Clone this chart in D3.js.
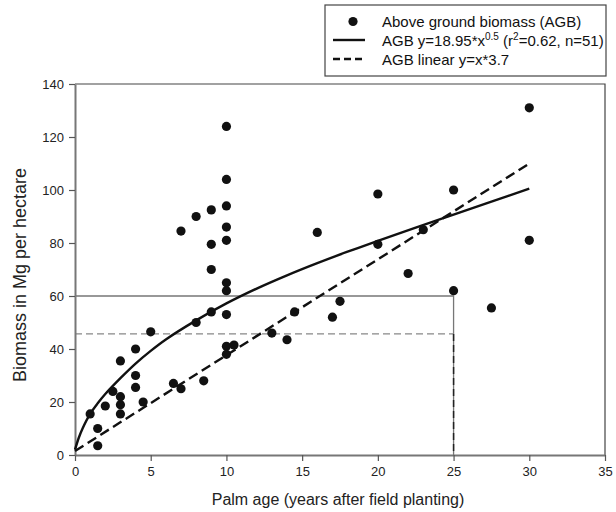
<!DOCTYPE html>
<html>
<head>
<meta charset="utf-8">
<script src="https://cdn.jsdelivr.net/npm/d3@7"></script>
<style>
  body { margin: 0; background: #fff; }
  svg { font-family: "Liberation Sans", Arial, sans-serif; }
</style>
</head>
<body>
<svg width="616" height="512"></svg>
<script>
// observed points (palm age, above ground biomass)
const ageYears = [10, 10, 10, 9, 8, 7, 10, 9, 10, 9, 10, 10, 10, 9, 8, 5, 4, 3, 4, 4,
  2.5, 3, 3, 3, 4.5, 2, 1, 1.5, 1.5, 6.5, 7, 8.5, 10, 10, 10.5, 13, 14, 14.5, 16, 17,
  17.5, 20, 20, 22, 23, 25, 25, 27.5, 30, 30];
const biomass = [124, 104, 94, 92.5, 90, 84.5, 86, 79.5, 81, 70, 65, 62, 53, 54, 50, 46.5, 40, 35.5, 30, 25.5,
  24, 22, 19, 15.5, 20, 18.5, 15.5, 10, 3.5, 27, 25, 28, 41, 38, 41.5, 46, 43.5, 54, 84, 52,
  58, 98.5, 79.5, 68.5, 85, 100, 62, 55.5, 131, 81];

// fitted power curve
const fitX = [0, 0.25, 0.5, 1, 1.5, 2, 3, 4, 5, 6, 8, 10, 12, 14, 16, 18, 20, 22.5, 25, 27.5, 30];
const fitY = [2, 6.5, 10, 15.5, 19.5, 23, 29, 34.5, 39.3, 43.6, 50.8, 57.2, 62.8, 67.8, 72.4, 76.7, 80.8, 85.8, 90.7, 95.6, 100.5];

// linear line ends
const linX = [0, 30];
const linY = [1.5, 110];

const xTicks = [0, 5, 10, 15, 20, 25, 30, 35];
const yTicks = [0, 20, 40, 60, 80, 100, 120, 140];

const svg = d3.select("svg");
const plotL = 75, plotR = 605, plotT = 84, plotB = 455;

const x = d3.scaleLinear().domain([0, 35]).range([plotL, plotR]);
const y = d3.scaleLinear().domain([0, 140]).range([plotB, plotT]);

// frame top + right
svg.append("path")
  .attr("d", `M${plotL},${plotT}H${plotR}V${plotB}`)
  .attr("fill", "none")
  .attr("stroke", "#444")
  .attr("stroke-width", 1.2);

// reference lines at 60 and ~45.7
svg.append("path")
  .attr("d", `M${x(0)},${y(60)}H${x(25)}V${y(0)}`)
  .attr("fill", "none")
  .attr("stroke", "#777")
  .attr("stroke-width", 1.3);

svg.append("path")
  .attr("d", `M${x(0)},${y(45.7)}H${x(25)}`)
  .attr("fill", "none")
  .attr("stroke", "#888")
  .attr("stroke-width", 1.3)
  .attr("stroke-dasharray", "7,4");

svg.append("path")
  .attr("d", `M${x(25)},${y(45.7)}V${y(0)}`)
  .attr("fill", "none")
  .attr("stroke", "#222")
  .attr("stroke-width", 1.5)
  .attr("stroke-dasharray", "7,4");

// axes
const xAxis = svg.append("g")
  .attr("transform", `translate(0,${plotB})`)
  .call(d3.axisBottom(x).tickValues(xTicks).tickSize(6).tickSizeOuter(0).tickPadding(6));

const yAxis = svg.append("g")
  .attr("transform", `translate(${plotL},0)`)
  .call(d3.axisLeft(y).tickValues(yTicks).tickSize(6).tickSizeOuter(0).tickPadding(5));

[xAxis, yAxis].forEach(g => {
  g.select(".domain").attr("stroke", "#777").attr("stroke-width", 2);
  g.selectAll(".tick line").attr("stroke", "#555").attr("stroke-width", 1.2);
  g.selectAll(".tick text")
    .attr("fill", "#222")
    .style("font-size", "13px")
    .style("font-family", "Liberation Sans, Arial, sans-serif");
});

// fitted curve + linear line
const line = d3.line()
  .x(d => x(d[0]))
  .y(d => y(d[1]));

svg.append("path")
  .datum(fitX.map((v, i) => [v, fitY[i]]))
  .attr("d", line.curve(d3.curveCatmullRom.alpha(0.5)))
  .attr("fill", "none")
  .attr("stroke", "#111")
  .attr("stroke-width", 2.4);

svg.append("path")
  .datum(linX.map((v, i) => [v, linY[i]]))
  .attr("d", d3.line().x(d => x(d[0])).y(d => y(d[1])))
  .attr("fill", "none")
  .attr("stroke", "#111")
  .attr("stroke-width", 2.4)
  .attr("stroke-dasharray", "10,5");

// dots
svg.append("g")
  .selectAll("circle")
  .data(ageYears.map((v, i) => [v, biomass[i]]))
  .join("circle")
  .attr("cx", d => x(d[0]))
  .attr("cy", d => y(d[1]))
  .attr("r", 4.6)
  .attr("fill", "#111");

// axis titles
svg.append("text")
  .attr("x", (plotL + plotR) / 2 - 2)
  .attr("y", 505)
  .attr("text-anchor", "middle")
  .attr("fill", "#222")
  .style("font-size", "16px")
  .text("Palm age (years after field planting)");

svg.append("text")
  .attr("transform", `translate(26,275) rotate(-90)`)
  .attr("text-anchor", "middle")
  .attr("fill", "#222")
  .style("font-size", "18px")
  .text("Biomass in Mg per hectare");

// legend
const lg = svg.append("g");
lg.append("rect")
  .attr("x", 325).attr("y", 5)
  .attr("width", 281).attr("height", 71)
  .attr("fill", "#fff")
  .attr("stroke", "#444")
  .attr("stroke-width", 1.2);

lg.append("circle").attr("cx", 353).attr("cy", 21.5).attr("r", 4.6).attr("fill", "#111");
lg.append("line").attr("x1", 333).attr("x2", 365).attr("y1", 40).attr("y2", 40)
  .attr("stroke", "#111").attr("stroke-width", 2.4);
lg.append("line").attr("x1", 333).attr("x2", 365).attr("y1", 59).attr("y2", 59)
  .attr("stroke", "#111").attr("stroke-width", 2.4).attr("stroke-dasharray", "7,4");

const legendText = lg.append("g")
  .attr("fill", "#111")
  .style("font-size", "15px");

legendText.append("text").attr("x", 382).attr("y", 26.5).text("Above ground biomass (AGB)");

const t2 = legendText.append("text").attr("x", 382).attr("y", 45.5);
t2.append("tspan").text("AGB y=18.95*x");
t2.append("tspan").attr("dy", -6).style("font-size", "10px").text("0.5");
t2.append("tspan").attr("dy", 6).text(" (r");
t2.append("tspan").attr("dy", -6).style("font-size", "10px").text("2");
t2.append("tspan").attr("dy", 6).text("=0.62, n=51)");

legendText.append("text").attr("x", 382).attr("y", 64.5).text("AGB linear y=x*3.7");
</script>
</body>
</html>
